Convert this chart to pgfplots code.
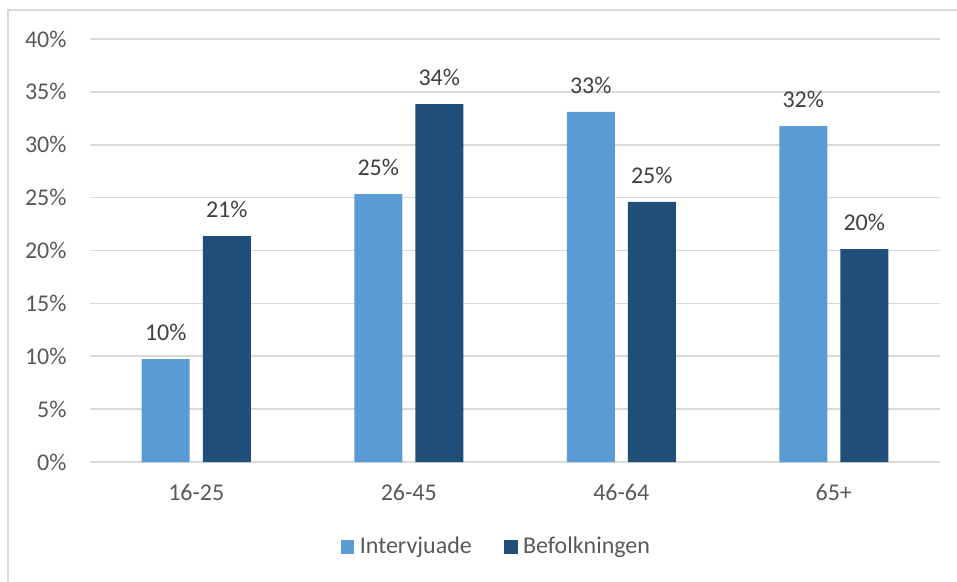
\documentclass[border=0pt]{standalone}
\usepackage{pgfplots}
\pgfplotsset{compat=1.18}
\usepackage{fontspec}
\setmainfont{Carlito}
\definecolor{lightbar}{HTML}{5B9BD5}
\definecolor{darkbar}{HTML}{1F4E79}
\definecolor{gridgray}{HTML}{D9D9D9}
\definecolor{ticktext}{HTML}{595959}
\definecolor{labeltext}{HTML}{404040}
\begin{document}
\fontsize{9pt}{11pt}\selectfont
\begin{tikzpicture}
  % frame of the chart area, cropped at right and bottom
  \useasboundingbox (0,0) rectangle (358.875pt,217.875pt);
  \draw[gridgray, line width=0.6pt] (3pt,-2pt) -- (3pt,214.125pt) -- (362pt,214.125pt);
  \begin{axis}[
      at={(33.75pt,44.625pt)},
      anchor=south west,
      scale only axis,
      width=318.75pt,
      height=158.625pt,
      ybar,
      bar width=18pt,
      xmin=-0.5, xmax=3.5,
      ymin=0, ymax=40,
      xtick={0,1,2,3},
      xticklabels={16-25,26-45,46-64,65+},
      ytick={0,5,...,40},
      yticklabels={0\%,5\%,10\%,15\%,20\%,25\%,30\%,35\%,40\%},
      major tick length=0pt,
      ymajorgrids,
      grid style={gridgray, line width=0.6pt},
      axis line style={draw=none},
      axis x line*=bottom,
      axis y line*=left,
      x axis line style={draw=gridgray, line width=0.6pt},
      tick label style={font=\fontsize{9pt}{11pt}\selectfont, text=ticktext},
      xticklabel style={anchor=north, inner sep=0pt, yshift=-8pt},
      yticklabel style={anchor=east, inner sep=0pt, xshift=-8.6pt},
      point meta=explicit symbolic,
      nodes near coords,
      every node near coord/.append style={font=\fontsize{9pt}{11pt}\selectfont, text=labeltext, anchor=south, inner sep=0pt, yshift=6.5pt},
      legend style={at={(0.480,-0.201)}, anchor=center, legend columns=-1, draw=none,
        font=\fontsize{9pt}{11pt}\selectfont, text=ticktext,
        /tikz/every even column/.append style={column sep=10pt}},
      legend image code/.code={\fill[#1] (0pt,-2.6pt) rectangle (5.2pt,2.6pt);},
      legend cell align=left,
    ]
    \addplot[fill=lightbar, draw=none, bar shift=-11.44pt] coordinates {
      (0,9.74)[10\%] (1,25.34)[25\%] (2,33.1)[33\%] (3,31.77)[32\%]
    };
    \addplot[fill=darkbar, draw=none, bar shift=11.44pt] coordinates {
      (0,21.37)[21\%] (1,33.85)[34\%] (2,24.59)[25\%] (3,20.14)[20\%]
    };
    \legend{Intervjuade, Befolkningen}
  \end{axis}
\end{tikzpicture}
\end{document}
